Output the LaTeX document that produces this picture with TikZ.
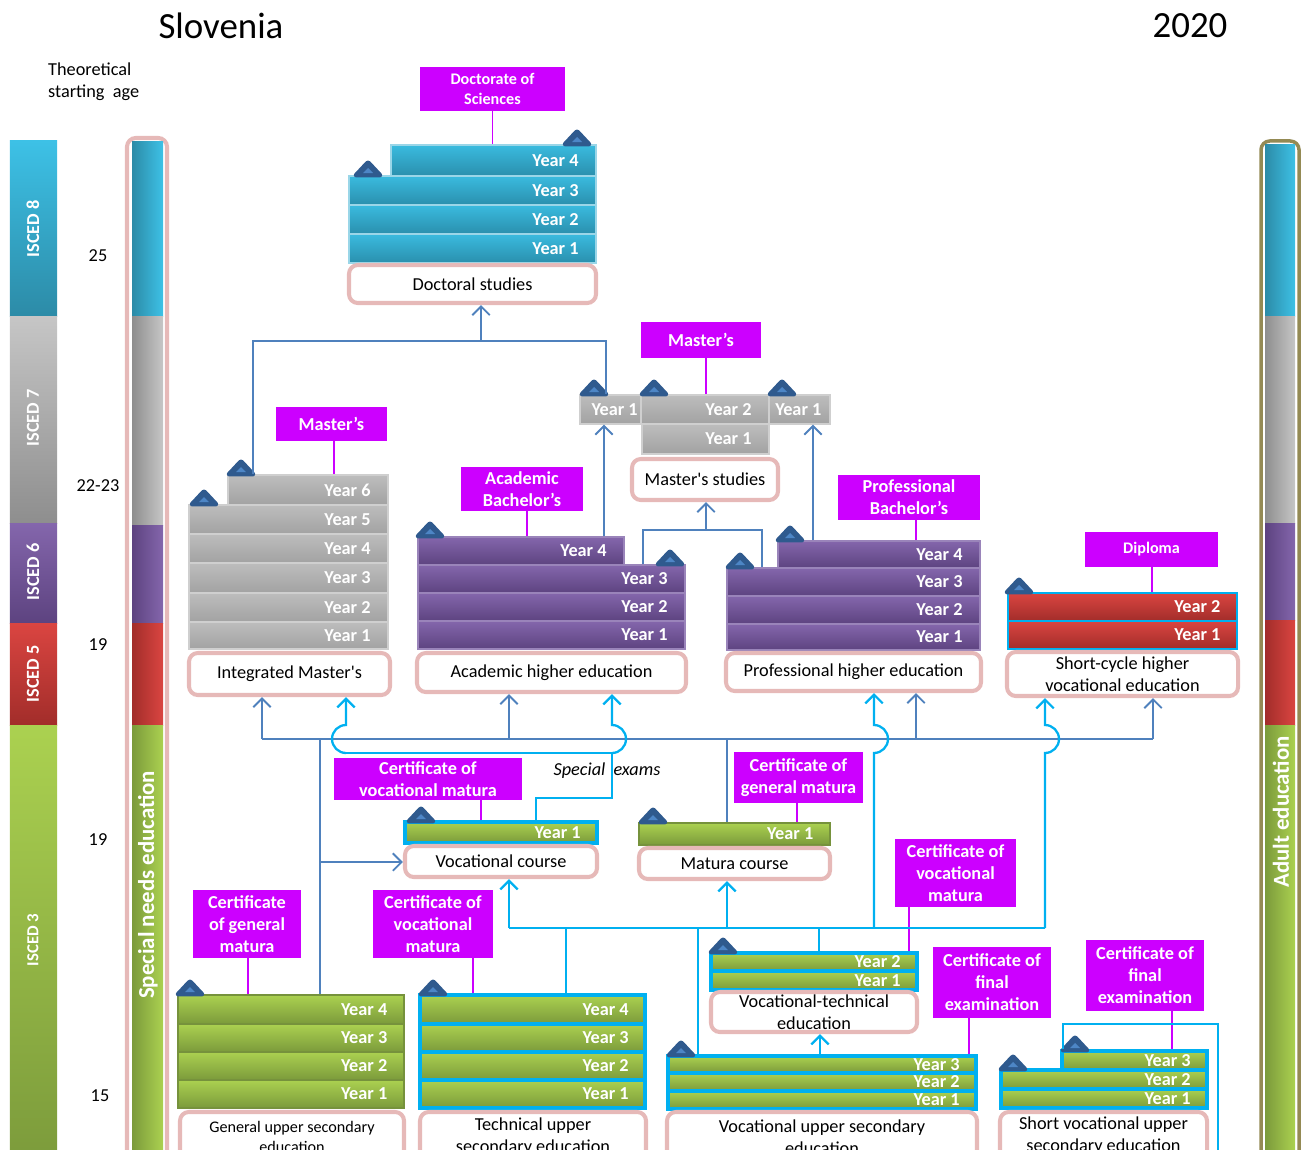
\documentclass[tikz,border=0pt]{standalone}
\usepackage{fontspec}
\setmainfont{Carlito}
\usepackage{tikz}
\usetikzlibrary{arrows.meta}
\usetikzlibrary{calc}

\definecolor{certmagenta}{HTML}{CC00FF}
\definecolor{boxpink}{HTML}{E6B9B8}
\definecolor{linedark}{HTML}{4F81BD}
\definecolor{linecyan}{HTML}{00B0F0}
\definecolor{capblue}{HTML}{2F5A8E}
\definecolor{capinner}{HTML}{4D86C6}
\definecolor{adultolive}{HTML}{948A54}
\definecolor{cyantop}{HTML}{3DC1E6}
\definecolor{cyanbot}{HTML}{2C8BA7}
\definecolor{graytop}{HTML}{C6C6C6}
\definecolor{graybot}{HTML}{8E8E8E}
\definecolor{purptop}{HTML}{8466AC}
\definecolor{purpbot}{HTML}{5D4380}
\definecolor{purpedge}{HTML}{9A84BA}
\definecolor{redtop}{HTML}{DA4541}
\definecolor{redbot}{HTML}{A22D2A}
\definecolor{greentop}{HTML}{ABD150}
\definecolor{greenbot}{HTML}{7B9A3B}
\definecolor{greenedge}{HTML}{76923C}
\definecolor{dctop}{HTML}{3ABBDF}
\definecolor{dcbot}{HTML}{2A8FAD}
\definecolor{dcedge}{HTML}{9AD6E8}
\definecolor{mgtop}{HTML}{BDBDBD}
\definecolor{mgbot}{HTML}{A2A2A2}
\definecolor{mgedge}{HTML}{CFCFCF}

\newcommand{\basefont}{\fontsize{10.4}{12.5}\selectfont}
\newcommand{\smallfont}{\fontsize{9.2}{11}\selectfont}

% box given by its corners: name, style, left, top, right, bottom, text
\newcommand{\areabox}[7]{%
  \pgfmathsetmacro{\boxwd}{(#5-#3)*0.02}%
  \pgfmathsetmacro{\boxht}{(#6-#4)*0.02}%
  \node [#2, minimum width=\boxwd cm, minimum height=\boxht cm] (#1) at ({(#3+#5)/2},{(#4+#6)/2}) {#7};}

% one year row, label at the right end
\newcommand{\yearrow}[7]{%
  \pgfmathsetmacro{\boxwd}{(#5-#3)*0.02}%
  \pgfmathsetmacro{\boxht}{(#6-#4)*0.02}%
  \node [#2, minimum width=\boxwd cm, minimum height=\boxht cm,
         label={[year_label]east:#7}] (#1) at ({(#3+#5)/2},{(#4+#6)/2}) {};}

% cap on a row: base centre x, base y
\newcommand{\capmark}[2]{%
  \filldraw [cap_style] (#1-14,#2) -- (#1,#2-15) -- (#1+14,#2) -- cycle;
  \fill [capinner] (#1-5,#2-3) -- (#1,#2-8) -- (#1+5,#2-3) -- cycle;}

\begin{document}
\begin{tikzpicture}[x=0.02cm, y=-0.02cm,
        seg_v/.style 2 args={top color=#1, bottom color=#2, draw=none},
        seg_h/.style 2 args={left color=#2, right color=#1, draw=none},
        col_label/.style={rotate=90, text=white, font=\basefont\bfseries},
        doc_bar/.style={top color=dctop, bottom color=dcbot, draw=dcedge, line width=0.6pt},
        mast_bar/.style={top color=mgtop, bottom color=mgbot, draw=mgedge, line width=0.6pt},
        bach_bar/.style={top color=purptop, bottom color=purpbot, draw=purpedge, line width=0.6pt},
        sc_bar/.style={top color=redtop, bottom color=redbot, draw=linecyan, line width=1.6pt},
        sec_bar/.style={top color=greentop, bottom color=greenbot, draw=greenedge, line width=1.4pt},
        sec_cyan_bar/.style={top color=greentop, bottom color=greenbot, draw=linecyan, line width=1.8pt},
        year_label/.style={anchor=east, xshift=-8pt, inner sep=2pt, text=white, font=\basefont\bfseries},
        prog_box/.style={draw=boxpink, line width=2.3pt, fill=white, rounded corners=5pt, align=center, inner sep=0pt, font=\basefont},
        cert_box/.style={fill=certmagenta, align=center, inner sep=1pt, text=white, font=\basefont\bfseries},
        cap_style/.style={fill=capblue, draw=capblue, line width=1.5pt, line join=round, rounded corners=1.2pt},
        line_cert/.style={draw=certmagenta, line width=0.8pt},
        line_dark/.style={draw=linedark, line width=0.8pt},
        arrow_dark/.style={draw=linedark, line width=1.1pt, -{Straight Barb[length=5pt, width=10pt]}},
        line_cyan/.style={draw=linecyan, line width=0.9pt},
        arrow_cyan/.style={draw=linecyan, line width=1.3pt, -{Straight Barb[length=5pt, width=10pt]}}]

\useasboundingbox (0,0) rectangle (1304,1149);

% headings
\node [font=\fontsize{21}{25}\selectfont] (country) at (221,26) {Slovenia};
\node [font=\fontsize{21}{25}\selectfont] (year) at (1190,26) {2020};
\node [font=\basefont, align=left, anchor=west] (age_head) at (42,82) {Theoretical\\starting~~age};

% ISCED levels
\areabox{is8}{seg_v={cyantop}{cyanbot}}{10}{141}{57}{316}{}
\areabox{is7}{seg_v={graytop}{graybot}}{10}{316}{57}{523}{}
\areabox{is6}{seg_v={purptop}{purpbot}}{10}{523}{57}{623}{}
\areabox{is5}{seg_v={redtop}{redbot}}{10}{623}{57}{725}{}
\areabox{is3}{seg_v={greentop}{greenbot}}{10}{725}{57}{1170}{}
\node [col_label] (is8_t) at (33,229) {ISCED 8};
\node [col_label] (is7_t) at (33,418) {ISCED 7};
\node [col_label] (is6_t) at (33,572) {ISCED 6};
\node [col_label] (is5_t) at (33,674) {ISCED 5};
\node [col_label, font=\fontsize{9.6}{11}\selectfont\bfseries] (is3_t) at (33,940) {ISCED 3};

% ages
\node [font=\basefont] (age25) at (98,256) {25};
\node [font=\basefont] (age22) at (98,486) {22-23};
\node [font=\basefont] (age19a) at (98,645) {19};
\node [font=\basefont] (age19b) at (98,840) {19};
\node [font=\basefont] (age15) at (100,1096) {15};

% special needs column
\areabox{sn_frame}{draw=boxpink, line width=2.3pt, rounded corners=5pt}{127}{138}{167}{1180}{}
\areabox{sn8}{seg_h={cyantop}{cyanbot}}{132}{142}{163}{316}{}
\areabox{sn7}{seg_h={graytop}{graybot}}{132}{316}{163}{525}{}
\areabox{sn6}{seg_h={purptop}{purpbot}}{132}{525}{163}{623}{}
\areabox{sn5}{seg_h={redtop}{redbot}}{132}{623}{163}{725}{}
\areabox{sn3}{seg_h={greentop}{greenbot}}{132}{725}{163}{1170}{}
\node [col_label, font=\fontsize{13}{15}\selectfont\bfseries] (sn_t) at (148,885) {Special needs education};

% adult education column
\areabox{ad_frame}{draw=adultolive, line width=2pt, rounded corners=5pt}{1261}{141}{1299}{1180}{}
\areabox{ad8}{seg_h={cyantop}{cyanbot}}{1265}{145}{1295}{316}{}
\areabox{ad7}{seg_h={graytop}{graybot}}{1265}{316}{1295}{523}{}
\areabox{ad6}{seg_h={purptop}{purpbot}}{1265}{523}{1295}{620}{}
\areabox{ad5}{seg_h={redtop}{redbot}}{1265}{620}{1295}{725}{}
\areabox{ad3}{seg_h={greentop}{greenbot}}{1265}{725}{1295}{1170}{}
\node [col_label, font=\fontsize{13}{15}\selectfont\bfseries] (ad_t) at (1281,812) {Adult education};

% doctoral studies
\yearrow{d1}{doc_bar}{349}{234}{596}{263}{Year 1}
\yearrow{d2}{doc_bar}{349}{205}{596}{234}{Year 2}
\yearrow{d3}{doc_bar}{349}{176}{596}{205}{Year 3}
\yearrow{d4}{doc_bar}{391}{145}{596}{176}{Year 4}
\areabox{doc_box}{prog_box}{349}{265}{596}{303}{Doctoral studies}
\areabox{doc_cert}{cert_box, font=\smallfont\bfseries}{420}{67}{565}{111}{Doctorate of\\Sciences}
\capmark{577}{145}
\capmark{368}{176}

% master's studies
\yearrow{mr1}{mast_bar}{642}{424}{769}{454}{Year 1}
\yearrow{mr1l}{mast_bar}{580}{395}{641}{424}{Year 1\kern-8pt}
\yearrow{mr2}{mast_bar}{641}{395}{769}{424}{Year 2}
\yearrow{mr1r}{mast_bar}{769}{395}{830}{424}{Year 1\kern-5pt}
\areabox{ms_box}{prog_box}{632}{459}{778}{500}{Master\textquotesingle s studies}
\areabox{ms_cert}{cert_box}{641}{322}{761}{358}{Master’s}
\capmark{594}{395}
\capmark{654}{395}
\capmark{782}{395}

% integrated master's
\yearrow{im1}{mast_bar}{189}{622}{388}{649}{Year 1}
\yearrow{im2}{mast_bar}{189}{593}{388}{622}{Year 2}
\yearrow{im3}{mast_bar}{189}{563}{388}{593}{Year 3}
\yearrow{im4}{mast_bar}{189}{534}{388}{563}{Year 4}
\yearrow{im5}{mast_bar}{189}{505}{388}{534}{Year 5}
\yearrow{im6}{mast_bar}{228}{475}{388}{505}{Year 6}
\areabox{im_box}{prog_box}{189}{653}{390}{695}{Integrated Master\textquotesingle s}
\areabox{im_cert}{cert_box}{276}{407}{387}{441}{Master’s}
\capmark{241}{475}
\capmark{204}{505}

% academic higher education
\yearrow{ab1}{bach_bar}{418}{621}{685}{649}{Year 1}
\yearrow{ab2}{bach_bar}{418}{593}{685}{621}{Year 2}
\yearrow{ab3}{bach_bar}{418}{565}{685}{593}{Year 3}
\yearrow{ab4}{bach_bar}{418}{537}{624}{565}{Year 4}
\areabox{ah_box}{prog_box}{417}{653}{686}{692}{Academic higher education}
\areabox{ab_cert}{cert_box}{461}{467}{583}{511}{Academic\\Bachelor’s}
\capmark{430}{537}
\capmark{670}{565}

% professional higher education
\yearrow{pb1}{bach_bar}{727}{624}{980}{650}{Year 1}
\yearrow{pb2}{bach_bar}{727}{596}{980}{624}{Year 2}
\yearrow{pb3}{bach_bar}{727}{568}{980}{596}{Year 3}
\yearrow{pb4}{bach_bar}{778}{541}{980}{568}{Year 4}
\areabox{ph_box}{prog_box}{726}{653}{981}{691}{Professional higher education}
\areabox{pb_cert}{cert_box}{838}{475}{980}{520}{Professional\\Bachelor’s}
\capmark{790}{541}
\capmark{740}{568}

% short-cycle higher vocational education
\yearrow{sc1}{sc_bar}{1008}{621}{1237}{649}{Year 1}
\yearrow{sc2}{sc_bar}{1008}{593}{1237}{621}{Year 2}
\areabox{sc_box}{prog_box}{1007}{652}{1238}{696}{Short-cycle higher\\vocational education}
\areabox{sc_cert}{cert_box, font=\smallfont\bfseries}{1085}{532}{1218}{567}{Diploma}
\capmark{1019}{593}

% vocational course
\yearrow{vc1}{sec_cyan_bar}{405}{822}{597}{843}{Year 1}
\areabox{vc_box}{prog_box}{405}{846}{597}{877}{Vocational course}
\areabox{vcm_cert}{cert_box}{334}{758}{522}{800}{Certificate of\\vocational matura}
\capmark{421}{822}

% matura course
\yearrow{mc1}{sec_bar}{639}{823}{830}{845}{Year 1}
\areabox{mc_box}{prog_box}{639}{848}{830}{879}{Matura course}
\areabox{mcg_cert}{cert_box}{734}{752}{863}{803}{Certificate of\\general matura}
\capmark{653}{823}

% vocational-technical education
\yearrow{vt1}{sec_cyan_bar}{711}{971}{917}{990}{Year 1}
\yearrow{vt2}{sec_cyan_bar}{711}{953}{917}{971}{Year 2}
\areabox{vt_box}{prog_box}{711}{992}{917}{1032}{Vocational-technical\\education}
\areabox{vtm_cert}{cert_box}{895}{839}{1016}{907}{Certificate of\\vocational\\matura}
\capmark{723}{953}

% general upper secondary
\yearrow{gu1}{sec_bar}{178}{1080}{404}{1108}{Year 1}
\yearrow{gu2}{sec_bar}{178}{1052}{404}{1080}{Year 2}
\yearrow{gu3}{sec_bar}{178}{1024}{404}{1052}{Year 3}
\yearrow{gu4}{sec_bar}{178}{995}{404}{1024}{Year 4}
\areabox{gu_box}{prog_box, font=\smallfont}{180}{1112}{404}{1162}{General upper secondary\\education}
\areabox{gum_cert}{cert_box}{193}{890}{301}{958}{Certificate\\of general\\matura}
\capmark{190}{995}

% technical upper secondary
\yearrow{tu1}{sec_cyan_bar}{420}{1080}{645}{1108}{Year 1}
\yearrow{tu2}{sec_cyan_bar}{420}{1052}{645}{1080}{Year 2}
\yearrow{tu3}{sec_cyan_bar}{420}{1024}{645}{1052}{Year 3}
\yearrow{tu4}{sec_cyan_bar}{420}{995}{645}{1024}{Year 4}
\areabox{tu_box}{prog_box}{420}{1112}{646}{1162}{Technical upper\\secondary education}
\areabox{tum_cert}{cert_box}{373}{890}{493}{958}{Certificate of\\vocational\\matura}
\capmark{433}{995}

% vocational upper secondary
\yearrow{vu1}{sec_cyan_bar}{668}{1091}{976}{1109}{Year 1}
\yearrow{vu2}{sec_cyan_bar}{668}{1073}{976}{1091}{Year 2}
\yearrow{vu3}{sec_cyan_bar}{668}{1056}{976}{1073}{Year 3}
\areabox{vu_box}{prog_box}{667}{1112}{977}{1162}{Vocational upper secondary\\education}
\areabox{vfe_cert}{cert_box}{933}{947}{1051}{1018}{Certificate of\\final\\examination}
\capmark{681}{1056}

% short vocational upper secondary
\yearrow{sv1}{sec_cyan_bar}{1001}{1089}{1207}{1108}{Year 1}
\yearrow{sv2}{sec_cyan_bar}{1001}{1070}{1207}{1089}{Year 2}
\yearrow{sv3}{sec_cyan_bar}{1062}{1051}{1207}{1070}{Year 3}
\areabox{sv_box}{prog_box}{1000}{1112}{1207}{1160}{Short vocational upper\\secondary education}
\areabox{sfe_cert}{cert_box}{1086}{940}{1204}{1011}{Certificate of\\final\\examination}
\capmark{1075}{1051}
\capmark{1013}{1070}

\node [font=\basefont\itshape] (exams) at (607,771) {Special\ \ exams};

% qualification lines
\draw [line_cert] (doc_cert.south) -- (doc_cert.south |- d4.north);
\draw [line_cert] (706,0 |- ms_cert.south) -- (706,0 |- mr2.north);
\draw [line_cert] (334,0 |- im_cert.south) -- (334,0 |- im6.north);
\draw [line_cert] (527,0 |- ab_cert.south) -- (527,0 |- ab4.north);
\draw [line_cert] (916,0 |- pb_cert.south) -- (916,0 |- pb4.north);
\draw [line_cert] (1152,0 |- sc_cert.south) -- (1152,0 |- sc2.north);
\draw [line_cert] (481,0 |- vcm_cert.south) -- (481,0 |- vc1.north);
\draw [line_cert] (797,0 |- mcg_cert.south) -- (797,0 |- mc1.north);
\draw [line_cert] (909,0 |- vtm_cert.south) -- (909,0 |- vt2.north);
\draw [line_cert] (248,0 |- gum_cert.south) -- (248,0 |- gu4.north);
\draw [line_cert] (473,0 |- tum_cert.south) -- (473,0 |- tu4.north);
\draw [line_cert] (969,0 |- vfe_cert.south) -- (969,0 |- vu3.north);
\draw [line_cert] (1172,0 |- sfe_cert.south) -- (1172,0 |- sv3.north);

% access to doctoral studies
\coordinate (k_left) at (253,341);
\coordinate (k_right) at (606,341);
\coordinate (j_doc) at (481,341);
\draw [line_dark] (k_left |- im6.north) -- (k_left) -- (k_right) -- (k_right |- mr1l.north);
\draw [arrow_dark] (j_doc) -- (j_doc |- doc_box.south);

% access to master's studies
\coordinate (x_ab) at (604,537);
\coordinate (x_pb) at (813,541);
\draw [arrow_dark] (x_ab |- ab4.north) -- (x_ab |- mr1l.south);
\draw [arrow_dark] (x_pb |- pb4.north) -- (x_pb |- mr1r.south);
\coordinate (k_bl) at (643,530);
\coordinate (k_br) at (762,530);
\coordinate (j_ms) at (706,530);
\draw [line_dark] (k_bl |- ab3.north) -- (k_bl) -- (k_br) -- (k_br |- pb3.north);
\draw [arrow_dark] (j_ms) -- (j_ms |- ms_box.south);

% general matura to higher education
\coordinate (m_im) at (262,739);
\coordinate (m_ah) at (509,739);
\coordinate (m_ph) at (916,739);
\coordinate (m_sc) at (1153,739);
\coordinate (m_gu) at (320,739);
\coordinate (m_vc) at (320,862);
\coordinate (m_mc) at (727,739);
\draw [line_dark] (m_im) -- (m_sc);
\draw [arrow_dark] (m_im) -- (m_im |- im_box.south);
\draw [arrow_dark] (m_ah) -- (m_ah |- ah_box.south);
\draw [arrow_dark] (m_ph) -- (m_ph |- ph_box.south);
\draw [arrow_dark] (m_sc) -- (m_sc |- sc_box.south);
\draw [line_dark] (m_gu) -- (m_gu |- gu4.north);
\draw [arrow_dark] (m_vc) -- (m_vc -| vc_box.west);
\draw [line_dark] (m_mc) -- (m_mc |- mc1.north);

% vocational course to higher education
\coordinate (c_im) at (346,753);
\coordinate (c_ah) at (612,753);
\coordinate (c_vc) at (536,798);
\coordinate (c_vc2) at (612,798);
\draw [line_cyan] (c_vc |- vc1.north) -- (c_vc) -- (c_vc2) -- (c_ah) -- (c_im);
\draw [arrow_cyan] (c_im) arc[start angle=-90, end angle=-270, radius=0.28cm] -- (c_im |- im_box.south);
\draw [arrow_cyan] (c_ah) arc[start angle=-90, end angle=90, radius=0.28cm] -- (c_ah |- ah_box.south);

% vocational matura routes
\coordinate (b_vc) at (509,928);
\coordinate (b_tu) at (566,928);
\coordinate (b_vu) at (698,928);
\coordinate (b_mc) at (727,928);
\coordinate (b_vt) at (819,928);
\coordinate (b_ph) at (874,928);
\coordinate (b_sc) at (1045,928);
\coordinate (h_ph) at (874,753);
\coordinate (h_sc) at (1045,753);
\draw [line_cyan] (b_vc) -- (b_sc);
\draw [arrow_cyan] (b_vc) -- (b_vc |- vc_box.south);
\draw [line_cyan] (b_tu) -- (b_tu |- tu4.north);
\draw [line_cyan] (b_vu) -- (b_vu |- vu3.north);
\draw [arrow_cyan] (b_mc) -- (b_mc |- mc_box.south);
\draw [line_cyan] (b_vt) -- (b_vt |- vt2.north);
\draw [arrow_cyan] (b_ph) -- (h_ph) arc[start angle=-90, end angle=90, radius=0.28cm] -- (h_ph |- ph_box.south);
\draw [arrow_cyan] (b_sc) -- (h_sc) arc[start angle=-90, end angle=90, radius=0.28cm] -- (h_sc |- sc_box.south);

% vocational upper secondary to vocational-technical
\coordinate (x_vt) at (820,1056);
\draw [arrow_cyan] (x_vt |- vu3.north) -- (x_vt |- vt_box.south);

% short vocational onwards
\coordinate (s_a) at (1063,1024);
\coordinate (s_b) at (1218,1024);
\coordinate (s_end) at (1218,1170);
\draw [line_cyan, line width=0.7pt] (s_a |- sv3.north) -- (s_a) -- (s_b) -- (s_end);

\end{tikzpicture}
\end{document}
